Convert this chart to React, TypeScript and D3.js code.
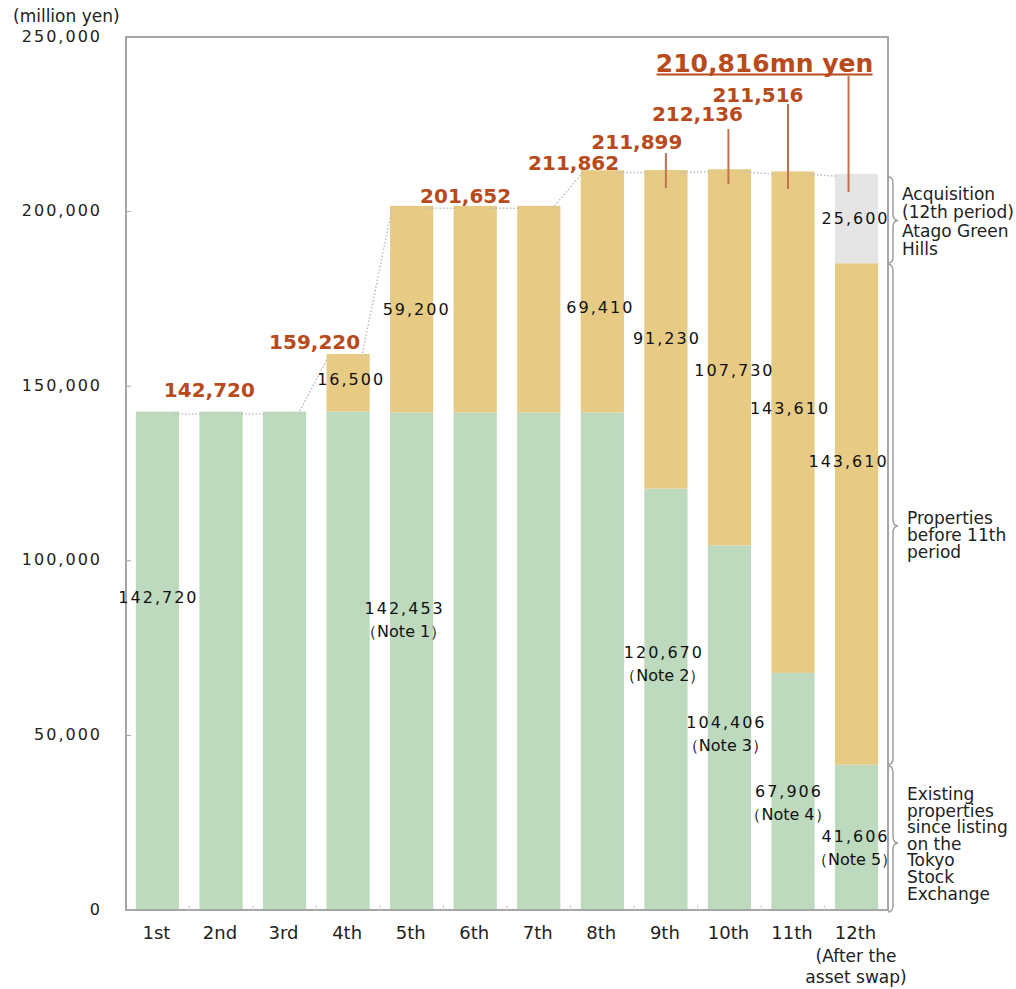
import React from 'react';
import * as d3 from 'd3';

const categories = ['1st', '2nd', '3rd', '4th', '5th', '6th', '7th', '8th', '9th', '10th', '11th', '12th'];
const existingProps = [142720, 142720, 142720, 142720, 142453, 142453, 142453, 142453, 120670, 104406, 67906, 41606];
const propsBefore11 = [0, 0, 0, 16500, 59200, 59200, 59200, 69410, 91230, 107730, 143610, 143610];
const acquisition12 = [0, 0, 0, 0, 0, 0, 0, 0, 0, 0, 0, 25600];
const totals = [142720, 142720, 142720, 159220, 201652, 201652, 201652, 211862, 211899, 212136, 211516, 210816];
const yTicks = [0, 50000, 100000, 150000, 200000, 250000];

// which totals get a headline label (category index)
const totalLabelIdx = [1, 3, 5, 7, 8, 9, 10, 11];
// segment value labels: [category index, value, note]
const segLabelIdx = [0, 3, 4, 4, 7, 8, 8, 9, 9, 10, 10, 11, 11, 11];
const segLabelVal = [142720, 16500, 59200, 142453, 69410, 91230, 120670, 107730, 104406, 143610, 67906, 143610, 41606, 25600];
const segLabelNote = ['', '', '', '（Note 1）', '', '', '（Note 2）', '', '（Note 3）', '', '（Note 4）', '', '（Note 5）', ''];

// layout (pixels) for labels
const totalLayout = [
  { dx: -11.6, by: 397 },
  { dx: -33.5, by: 349 },
  { dx: -9.6, by: 203 },
  { dx: -28.7, by: 170 },
  { dx: -29, by: 149 },
  { dx: -32, by: 121 },
  { dx: -35, by: 102 },
  { dx: -92, by: 72 },
];
const leaderLayout = [
  null, null, null, null,
  { dx: 0, y1: 153, y2: 188 },
  { dx: -1, y1: 129, y2: 184 },
  { dx: -5, y1: 104, y2: 189 },
  { dx: -8, y1: 76, y2: 192 },
];
const segLayout = [
  { dx: 0, cy: 597 },
  { dx: 2, cy: 379 },
  { dx: 4, cy: 309 },
  { dx: -8, cy: 608 },
  { dx: -3, cy: 307 },
  { dx: 0, cy: 338 },
  { dx: -3, cy: 652 },
  { dx: 4, cy: 370 },
  { dx: -4, cy: 722 },
  { dx: -4, cy: 408 },
  { dx: -5, cy: 791 },
  { dx: -9, cy: 461 },
  { dx: -2, cy: 836 },
  { dx: -2, cy: 218 },
];

const annotations = [
  { lines: ['Acquisition', '(12th period)', 'Atago Green', 'Hills'], x: 902, y: 200, lh: 18.3 },
  { lines: ['Properties', 'before 11th', 'period'], x: 907, y: 524, lh: 17 },
  { lines: ['Existing', 'properties', 'since listing', 'on the', 'Tokyo', 'Stock', 'Exchange'], x: 907, y: 800, lh: 16.6 },
];

const W = 1016;
const H = 989;
const FONT = "'DejaVu Sans', Verdana, sans-serif";
const GREEN = '#BDD9BE';
const YELLOW = '#E7CB85';
const GRAY = '#E5E5E5';
const ORANGE = '#B84A1C';
const FRAME = '#A6A6A6';

export default function App() {
  const x = d3.scaleBand<string>().domain(categories).range([126, 888]).paddingInner(0.32).paddingOuter(0.155);
  const y = d3.scaleLinear().domain([0, 250000]).range([910, 37]);
  const bw = x.bandwidth();
  const step = x.step();
  const fmt = d3.format(',');

  const rows = categories.map((c, i) => ({ cat: c, existing: existingProps[i], before: propsBefore11[i], acq: acquisition12[i] }));
  const stack = d3.stack<any>().keys(['existing', 'before', 'acq'])(rows);
  const colors = [GREEN, YELLOW, GRAY];

  const brace = (x0: number, y1: number, y2: number, ym: number, w = 10, r = 7) => {
    const xm = x0 + w / 2;
    return `M${x0},${y1} Q${xm},${y1} ${xm},${y1 + r} L${xm},${ym - r} Q${xm},${ym} ${x0 + w},${ym} Q${xm},${ym} ${xm},${ym + r} L${xm},${y2 - r} Q${xm},${y2} ${x0},${y2}`;
  };

  const i12 = 11;
  const gTop = y(existingProps[i12]);
  const yTop = y(existingProps[i12] + propsBefore11[i12]);
  const tTop = y(totals[i12]);

  return (
    <svg width={W} height={H} style={{ position: 'absolute', left: 0, top: 0, display: 'block', background: '#fff' }} fontFamily={FONT}>
      {/* bars */}
      {stack.map((layer, li) => (
        <g key={li} fill={colors[li]}>
          {layer.map((d, i) => {
            const h = y(d[0]) - y(d[1]);
            if (h <= 0) return null;
            return <rect key={i} x={x(categories[i])} y={y(d[1])} width={bw} height={h} />;
          })}
        </g>
      ))}

      {/* dotted connectors */}
      {categories.slice(0, -1).map((c, i) => {
        const x1 = (x(c) as number) + bw - 8;
        const x2 = (x(categories[i + 1]) as number) + 2;
        return (
          <line key={i} x1={x1} y1={y(totals[i]) + 2.5} x2={x2} y2={y(totals[i + 1]) + 2.5}
            stroke="#BDBDBD" strokeWidth={1.5} strokeDasharray="1.5,2" />
        );
      })}

      {/* frame */}
      <rect x={126} y={37} width={762} height={873} fill="none" stroke={FRAME} strokeWidth={2} />

      {/* y ticks and labels */}
      {yTicks.map((t) => (
        <g key={t}>
          <line x1={126} x2={131} y1={y(t)} y2={y(t)} stroke={FRAME} strokeWidth={1} />
          <text x={102} y={y(t) - 1} textAnchor="end" dominantBaseline="central" fontSize={16} letterSpacing={2} fill="#222">
            {fmt(t)}
          </text>
        </g>
      ))}
      <text x={13} y={22} fontSize={17} fill="#222">(million yen)</text>

      {/* x ticks */}
      {categories.slice(1).map((c) => {
        const bx = (x(c) as number) - (step - bw) / 2;
        return <line key={c} x1={bx} x2={bx} y1={910} y2={905} stroke="#CFCFCF" strokeWidth={1} />;
      })}

      {/* category labels */}
      {categories.map((c) => (
        <text key={c} x={(x(c) as number) + bw / 2 - 1} y={939} textAnchor="middle" fontSize={18} fill="#222">{c}</text>
      ))}
      <text x={856} y={962} textAnchor="middle" fontSize={17} fill="#222">(After the</text>
      <text x={856} y={983} textAnchor="middle" fontSize={17} fill="#222">asset swap)</text>

      {/* segment value labels */}
      {segLabelIdx.map((ci, k) => {
        const cx = (x(categories[ci]) as number) + bw / 2 + segLayout[k].dx;
        const cy = segLayout[k].cy;
        return (
          <g key={k}>
            <text x={cx + 1} y={cy} textAnchor="middle" dominantBaseline="central" fontSize={16} letterSpacing={2} fill="#111">
              {fmt(segLabelVal[k])}
            </text>
            {segLabelNote[k] && (
              <text x={cx} y={cy + 23} textAnchor="middle" dominantBaseline="central" fontSize={16} fill="#111">
                {segLabelNote[k]}
              </text>
            )}
          </g>
        );
      })}

      {/* leader lines */}
      {totalLabelIdx.map((ci, k) => {
        const L = leaderLayout[k];
        if (!L) return null;
        const lx = (x(categories[ci]) as number) + bw / 2 + L.dx;
        return <line key={k} x1={lx} x2={lx} y1={L.y1} y2={L.y2} stroke="#C0714F" strokeWidth={2} />;
      })}

      {/* total labels */}
      {totalLabelIdx.map((ci, k) => {
        const cx = (x(categories[ci]) as number) + bw / 2 + totalLayout[k].dx;
        const last = ci === categories.length - 1;
        return (
          <g key={k}>
            <text x={cx} y={totalLayout[k].by} textAnchor="middle" fontSize={last ? 25 : 20} fontWeight="bold" fill={ORANGE}>
              {fmt(totals[ci]) + (last ? 'mn yen' : '')}
            </text>
            {last && <line x1={cx - 108} x2={cx + 108} y1={totalLayout[k].by + 2.5} y2={totalLayout[k].by + 2.5} stroke={ORANGE} strokeWidth={2} />}
          </g>
        );
      })}

      {/* braces */}
      <g fill="none" stroke="#A0A0A0" strokeWidth={1.5}>
        <path d={brace(888, tTop + 3, yTop, (tTop + yTop) / 2 + 2)} />
        <path d={brace(888, yTop + 1, gTop, 526)} />
        <path d={brace(888, gTop + 1, y(0) + 2, 843)} />
      </g>

      {/* annotations */}
      {annotations.map((a, k) => (
        <text key={k} x={a.x} y={a.y} fontSize={17} fill="#222">
          {a.lines.map((l, j) => (
            <tspan key={j} x={a.x} y={a.y + j * a.lh}>{l}</tspan>
          ))}
        </text>
      ))}
    </svg>
  );
}
